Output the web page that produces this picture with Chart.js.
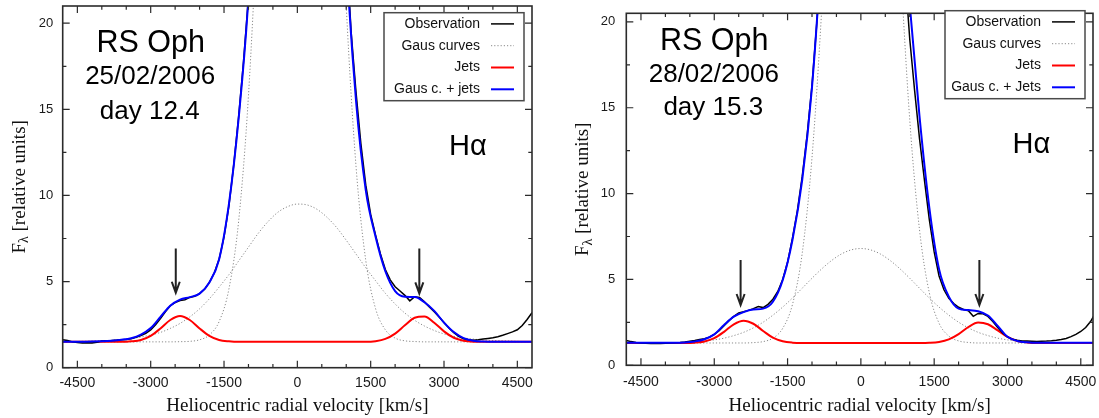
<!DOCTYPE html>
<html>
<head>
<meta charset="utf-8">
<title>RS Oph H-alpha profiles</title>
<script src="https://cdn.jsdelivr.net/npm/chart.js@4.4.1/dist/chart.umd.min.js"></script>
<style>
    html, body { margin: 0; padding: 0; background: #fff; overflow: hidden; }
    #wrap { position: relative; width: 1099px; height: 418px; overflow: hidden; }
    canvas { position: absolute; top: 0; }
</style>
</head>
<body>
<div id="wrap">
    <canvas id="day12" width="560" height="430" style="left:0"></canvas>
    <canvas id="day15" width="539" height="430" style="left:560px"></canvas>
</div>
<script>
// velocity grids [km/s]
const velocity = [-4800, -4600, -4400, -4200, -4000, -3800, -3600, -3400, -3200, -3000,
    -2800, -2600, -2400, -2200, -2000, -1800, -1600, -1400, -1200, -1000,
    -800, -600, -400, -200, 0, 200, 400, 600, 800, 1000,
    1200, 1400, 1600, 1800, 2000, 2200, 2400, 2600, 2800, 3000,
    3200, 3400, 3600, 3800, 4000, 4200, 4400, 4600, 4800];

const velocityObs = [-4800, -4700, -4600, -4500, -4400, -4300, -4200, -4100, -4000, -3900,
    -3800, -3700, -3600, -3500, -3400, -3300, -3200, -3100, -3000, -2900,
    -2800, -2700, -2600, -2500, -2400, -2300, -2200, -2100, -2000, -1900,
    -1800, -1700, -1600, -1500, -1400, -1300, -1200, -1100, -1000, -900,
    -800, -700, -600, -500, -400, -300, -200, -100, 0, 100,
    200, 300, 400, 500, 600, 700, 800, 900, 1000, 1100,
    1200, 1300, 1400, 1500, 1600, 1700, 1800, 1900, 2000, 2100,
    2200, 2300, 2400, 2500, 2600, 2700, 2800, 2900, 3000, 3100,
    3200, 3300, 3400, 3500, 3600, 3700, 3800, 3900, 4000, 4100,
    4200, 4300, 4400, 4500, 4600, 4700, 4800];

// 25/02/2006, day 12.4
const obs12 = [1.62, 1.58, 1.50, 1.46, 1.44, 1.45, 1.44, 1.48, 1.55, 1.57,
    1.58, 1.60, 1.62, 1.63, 1.68, 1.76, 1.86, 2.00, 2.20, 2.50,
    2.85, 3.25, 3.60, 3.78, 3.90, 3.95, 4.08, 4.15, 4.30, 4.55,
    4.95, 5.50, 6.30, 7.60, 9.40, 11.8, 14.6, 17.8, 21.5, 27,
    33, 40, 48, 56, 64, 71, 76, 80, 82, 82,
    80, 76, 70, 63, 55, 46, 38, 30, 24.5, 19.5,
    16.0, 13.0, 10.6, 8.9, 7.7, 6.6, 5.7, 5.1, 4.7, 4.45,
    4.20, 3.88, 4.12, 4.08, 3.82, 3.52, 3.25, 2.95, 2.62, 2.30,
    2.04, 1.82, 1.68, 1.62, 1.60, 1.62, 1.66, 1.70, 1.74, 1.80,
    1.88, 1.98, 2.08, 2.20, 2.45, 2.80, 3.20];

const narrow12 = [1.50, 1.50, 1.50, 1.50, 1.50, 1.50, 1.50, 1.50, 1.50, 1.50,
    1.50, 1.50, 1.51, 1.53, 1.62, 1.90, 2.68, 4.57, 8.54, 15.8,
    27.2, 42.2, 58.6, 72.3, 79.2, 76.8, 66.1, 50.5, 34.3, 21.0,
    11.7, 6.22, 3.43, 2.20, 1.72, 1.56, 1.52, 1.50, 1.50, 1.50,
    1.50, 1.50, 1.50, 1.50, 1.50, 1.50, 1.50, 1.50, 1.50];

const broad12 = [1.51, 1.52, 1.53, 1.55, 1.57, 1.59, 1.64, 1.70, 1.78, 1.90,
    2.05, 2.28, 2.57, 2.95, 3.42, 4.00, 4.68, 5.40, 6.20, 7.00,
    7.80, 8.48, 9.02, 9.35, 9.50, 9.45, 9.20, 8.75, 8.15, 7.40,
    6.60, 5.80, 5.05, 4.32, 3.70, 3.17, 2.75, 2.42, 2.16, 1.96,
    1.82, 1.73, 1.66, 1.61, 1.58, 1.56, 1.54, 1.52, 1.51];

const jets12 = [1.50, 1.50, 1.50, 1.50, 1.50, 1.50, 1.50, 1.53, 1.61, 1.85,
    2.28, 2.77, 3.00, 2.77, 2.28, 1.85, 1.61, 1.53, 1.50, 1.50,
    1.50, 1.50, 1.50, 1.50, 1.50, 1.50, 1.50, 1.50, 1.50, 1.50,
    1.50, 1.50, 1.54, 1.67, 1.98, 2.46, 2.90, 2.97, 2.61, 2.11,
    1.74, 1.57, 1.51, 1.50, 1.50, 1.50, 1.50, 1.50, 1.50];

const fit12 = [1.50, 1.50, 1.51, 1.52, 1.54, 1.57, 1.62, 1.71, 1.92, 2.30,
    2.95, 3.60, 3.95, 4.10, 4.30, 4.95, 6.30, 9.50, 14.5, 21.5,
    33, 48, 64, 76, 82, 80, 70, 55, 38, 24,
    15.5, 10.3, 7.6, 5.6, 4.45, 4.12, 4.10, 3.80, 3.30, 2.62,
    2.07, 1.72, 1.57, 1.52, 1.50, 1.50, 1.50, 1.50, 1.50];

// 28/02/2006, day 15.3
const obs15 = [1.45, 1.38, 1.33, 1.30, 1.28, 1.27, 1.28, 1.27, 1.29, 1.30,
    1.32, 1.33, 1.36, 1.40, 1.44, 1.50, 1.55, 1.64, 1.80, 2.02,
    2.30, 2.60, 2.85, 3.05, 3.12, 3.20, 3.30, 3.42, 3.36, 3.55,
    3.85, 4.30, 5.00, 6.00, 7.40, 9.00, 11.0, 13.4, 16.3, 20.0,
    24.5, 30, 35, 41, 47, 52, 57, 60, 61, 61,
    59, 55, 51, 46, 40, 34, 28, 23, 19.0, 16.0,
    13.2, 10.8, 8.5, 6.6, 5.2, 4.4, 3.9, 3.6, 3.38, 3.25,
    3.18, 2.85, 3.02, 3.00, 2.85, 2.55, 2.20, 1.88, 1.65, 1.52,
    1.46, 1.42, 1.41, 1.40, 1.39, 1.40, 1.41, 1.43, 1.46, 1.50,
    1.56, 1.67, 1.80, 1.97, 2.20, 2.55, 3.05];

const narrow15 = [1.30, 1.30, 1.30, 1.30, 1.30, 1.30, 1.30, 1.30, 1.30, 1.30,
    1.30, 1.30, 1.30, 1.32, 1.38, 1.58, 2.15, 3.54, 6.53, 12.1,
    20.8, 32.3, 44.8, 55.0, 59.6, 57.1, 48.3, 36.1, 24.0, 14.3,
    7.89, 4.23, 2.45, 1.70, 1.42, 1.33, 1.30, 1.30, 1.30, 1.30,
    1.30, 1.30, 1.30, 1.30, 1.30, 1.30, 1.30, 1.30, 1.30];

const broad15 = [1.30, 1.30, 1.30, 1.30, 1.31, 1.32, 1.34, 1.37, 1.41, 1.48,
    1.58, 1.73, 1.92, 2.18, 2.51, 2.92, 3.39, 3.92, 4.49, 5.07,
    5.62, 6.10, 6.48, 6.72, 6.80, 6.72, 6.48, 6.10, 5.62, 5.07,
    4.49, 3.92, 3.39, 2.92, 2.51, 2.18, 1.92, 1.73, 1.58, 1.48,
    1.41, 1.37, 1.34, 1.32, 1.31, 1.30, 1.30, 1.30, 1.30];

const jets15 = [1.30, 1.30, 1.30, 1.30, 1.30, 1.30, 1.30, 1.32, 1.39, 1.58,
    1.95, 2.39, 2.60, 2.42, 2.00, 1.61, 1.40, 1.32, 1.30, 1.30,
    1.30, 1.30, 1.30, 1.30, 1.30, 1.30, 1.30, 1.30, 1.30, 1.30,
    1.30, 1.31, 1.36, 1.51, 1.82, 2.23, 2.49, 2.39, 2.03, 1.65,
    1.42, 1.33, 1.30, 1.30, 1.30, 1.30, 1.30, 1.30, 1.30];

const fit15 = [1.31, 1.31, 1.31, 1.31, 1.31, 1.31, 1.33, 1.39, 1.52, 1.80,
    2.35, 2.83, 3.10, 3.25, 3.30, 3.70, 4.95, 7.30, 10.8, 16.2,
    24.5, 35, 47, 57, 61, 59, 51, 40, 28.5, 21.0,
    14.5, 9.2, 5.6, 4.0, 3.3, 3.22, 3.15, 2.90, 2.30, 1.66,
    1.42, 1.34, 1.31, 1.31, 1.31, 1.31, 1.31, 1.31, 1.31];

// axis ticks
const xTicks = [-4500, -3000, -1500, 0, 1500, 3000, 4500];
const xMinorTicks = [-4000, -3500, -2500, -2000, -1000, -500, 500, 1000, 2000, 2500, 3500, 4000];
const yTicks = [0, 5, 10, 15, 20];
const yMinorTicks = [2.5, 7.5, 12.5, 17.5];

const SANS = '"Liberation Sans", Arial, sans-serif';
const SERIF = '"Liberation Serif", "Times New Roman", serif';

// gnuplot style frame with inward ticks on all four sides
const frame = {
    id: 'frame',
    afterDatasetsDraw(chart) {
        const {ctx, chartArea: a, scales: {x, y}} = chart;
        ctx.save();
        ctx.strokeStyle = '#2b2b2b';
        ctx.lineWidth = 1.2;
        ctx.beginPath();
        const vTick = (v, len) => {
            const p = x.getPixelForValue(v);
            ctx.moveTo(p, a.bottom); ctx.lineTo(p, a.bottom - len);
            ctx.moveTo(p, a.top); ctx.lineTo(p, a.top + len);
        };
        const hTick = (v, len) => {
            const p = y.getPixelForValue(v);
            ctx.moveTo(a.left, p); ctx.lineTo(a.left + len, p);
            ctx.moveTo(a.right, p); ctx.lineTo(a.right - len, p);
        };
        xTicks.forEach(v => vTick(v, 7));
        xMinorTicks.forEach(v => vTick(v, 3.7));
        yTicks.forEach(v => hTick(v, 7));
        yMinorTicks.forEach(v => hTick(v, 3.7));
        ctx.stroke();
        ctx.lineWidth = 1.6;
        ctx.strokeRect(a.left, a.top, a.right - a.left, a.bottom - a.top);
        ctx.restore();
    }
};

// F_lambda axis title (subscript needs its own drawing)
const fluxTitle = {
    id: 'fluxTitle',
    afterDraw(chart) {
        const {ctx, chartArea: a} = chart;
        const big = '19px ' + SERIF, small = '14px ' + SERIF;
        ctx.save();
        ctx.font = big;
        const wF = ctx.measureText('F').width;
        const wRest = ctx.measureText(' [relative units]').width;
        ctx.font = small;
        const wL = ctx.measureText('λ').width;
        const start = -(wF + wL + wRest) / 2;
        ctx.translate(a.left - 43, (a.top + a.bottom) / 2);
        ctx.rotate(-Math.PI / 2);
        ctx.fillStyle = '#111';
        ctx.textAlign = 'left';
        ctx.textBaseline = 'middle';
        ctx.font = big;
        ctx.fillText('F', start, 0);
        ctx.font = small;
        ctx.fillText('λ', start + wF, 5);
        ctx.font = big;
        ctx.fillText(' [relative units]', start + wF + wL, 0);
        ctx.restore();
    }
};

function makeNotes(labels, arrows) {
    return {
        id: 'notes',
        afterDatasetsDraw(chart) {
            const {ctx, scales: {x, y}} = chart;
            ctx.save();
            ctx.fillStyle = '#000';
            ctx.textAlign = 'center';
            ctx.textBaseline = 'alphabetic';
            labels.forEach(l => {
                ctx.font = l.size + 'px ' + SANS;
                ctx.fillText(l.text, x.getPixelForValue(l.x), y.getPixelForValue(l.y));
            });
            ctx.strokeStyle = '#222';
            ctx.lineWidth = 2;
            arrows.forEach(([v, from, to]) => {
                const px = x.getPixelForValue(v);
                const y0 = y.getPixelForValue(from), y1 = y.getPixelForValue(to);
                ctx.beginPath();
                ctx.moveTo(px, y0); ctx.lineTo(px, y1);
                ctx.moveTo(px - 4, y1 - 11); ctx.lineTo(px, y1); ctx.lineTo(px + 4, y1 - 11);
                ctx.stroke();
            });
            ctx.restore();
        }
    };
}

function makeKey(top) {
    return {
        id: 'key',
        afterDraw(chart) {
            const {ctx, chartArea: a} = chart;
            const w = 140, h = 88;
            const right = a.right - 8, left = right - w;
            ctx.save();
            ctx.fillStyle = '#fff';
            ctx.fillRect(left, top, w, h);
            ctx.strokeStyle = '#4a4a4a';
            ctx.lineWidth = 1.5;
            ctx.strokeRect(left, top, w, h);
            const seen = [];
            chart.data.datasets.forEach(ds => {
                if (seen.includes(ds.label)) return;
                const cy = top + 11.2 + seen.length * 21.8;
                seen.push(ds.label);
                ctx.font = '14px ' + SANS;
                ctx.fillStyle = '#111';
                ctx.textAlign = 'right';
                ctx.textBaseline = 'middle';
                ctx.fillText(ds.label, right - 44, cy);
                ctx.strokeStyle = ds.borderColor;
                ctx.lineWidth = ds.borderWidth;
                ctx.setLineDash(ds.borderDash || []);
                ctx.beginPath();
                ctx.moveTo(right - 33, cy);
                ctx.lineTo(right - 10, cy);
                ctx.stroke();
                ctx.setLineDash([]);
            });
            ctx.restore();
        }
    };
}

function spectrumChart(id, s, look) {
    const pts = (xs, ys) => xs.map((v, i) => ({x: v, y: ys[i]}));
    return new Chart(document.getElementById(id), {
        type: 'line',
        data: {
            datasets: [{
                label: 'Observation',
                data: pts(velocityObs, s.obs),
                borderColor: '#000000',
                borderWidth: 1.5,
                tension: 0,
                order: 1
            }, {
                label: 'Gaus curves',
                data: pts(velocity, s.narrow),
                borderColor: '#8a8a8a',
                borderWidth: 1,
                borderDash: [1.2, 2],
                cubicInterpolationMode: 'monotone',
                order: 4
            }, {
                label: 'Gaus curves',
                data: pts(velocity, s.broad),
                borderColor: '#8a8a8a',
                borderWidth: 1,
                borderDash: [1.2, 2],
                cubicInterpolationMode: 'monotone',
                order: 4
            }, {
                label: 'Jets',
                data: pts(velocity, s.jets),
                borderColor: '#ff0000',
                borderWidth: 2,
                cubicInterpolationMode: 'monotone',
                order: 2
            }, {
                label: s.fitLabel,
                data: pts(velocity, s.fit),
                borderColor: '#0000ff',
                borderWidth: 2,
                cubicInterpolationMode: 'monotone',
                order: 0
            }]
        },
        options: {
            responsive: false,
            animation: false,
            devicePixelRatio: 1,
            events: [],
            layout: {padding: {left: 0, top: look.top, right: look.right, bottom: 0}},
            elements: {point: {radius: 0}},
            scales: {
                x: {
                    type: 'linear',
                    min: -4800,
                    max: look.xMax,
                    afterBuildTicks: sc => { sc.ticks = xTicks.map(v => ({value: v})); },
                    afterFit: sc => { sc.height = look.xAxisHeight; sc.paddingLeft = 0; sc.paddingRight = 0; },
                    grid: {display: false, drawTicks: false},
                    border: {display: false},
                    ticks: {padding: look.xPad, font: {family: SANS, size: 14}, color: '#1a1a1a', maxRotation: 0, callback: v => String(v)},
                    title: {
                        display: true,
                        text: 'Heliocentric radial velocity [km/s]',
                        font: {family: SERIF, size: 19},
                        color: '#111',
                        padding: {top: 0, bottom: 12.6}
                    }
                },
                y: {
                    min: 0,
                    max: look.yMax,
                    afterBuildTicks: sc => { sc.ticks = yTicks.map(v => ({value: v})); },
                    afterFit: sc => { sc.width = look.left; sc.paddingTop = 0; sc.paddingBottom = 0; },
                    grid: {display: false, drawTicks: false},
                    border: {display: false},
                    ticks: {padding: look.yPad, font: {family: SANS, size: 13}, color: '#1a1a1a', callback: v => String(v)}
                }
            },
            plugins: {
                legend: {display: false},
                tooltip: {enabled: false}
            }
        },
        plugins: [frame, fluxTitle, makeNotes(s.notes, s.arrows), makeKey(look.keyTop)]
    });
}

spectrumChart('day12', {
    obs: obs12, narrow: narrow12, broad: broad12, jets: jets12, fit: fit12,
    fitLabel: 'Gaus c. + jets',
    notes: [
        {text: 'RS Oph', x: -3000, y: 18.32, size: 30.5},
        {text: '25/02/2006', x: -3010, y: 16.49, size: 26},
        {text: 'day 12.4', x: -3020, y: 14.46, size: 26},
        {text: 'Hα', x: 3490, y: 12.33, size: 29}
    ],
    arrows: [[-2487, 6.92, 4.35], [2495, 6.92, 4.31]]
}, {left: 62.7, top: 6, right: 28, xAxisHeight: 62.3, xMax: 4800, yMax: 21, xPad: 7, yPad: 9.5, keyTop: 12.7});

spectrumChart('day15', {
    obs: obs15, narrow: narrow15, broad: broad15, jets: jets15, fit: fit15,
    fitLabel: 'Gaus c. + Jets',
    notes: [
        {text: 'RS Oph', x: -3000, y: 18.35, size: 30.5},
        {text: '28/02/2006', x: -3010, y: 16.5, size: 26},
        {text: 'day 15.3', x: -3020, y: 14.57, size: 26},
        {text: 'Hα', x: 3490, y: 12.37, size: 29}
    ],
    arrows: [[-2461, 6.13, 3.51], [2425, 6.13, 3.51]]
}, {left: 66.3, top: 13.3, right: 6, xAxisHeight: 64.7, xMax: 4750, yMax: 20.5, xPad: 8, yPad: 11, keyTop: 10.7});
</script>
</body>
</html>
